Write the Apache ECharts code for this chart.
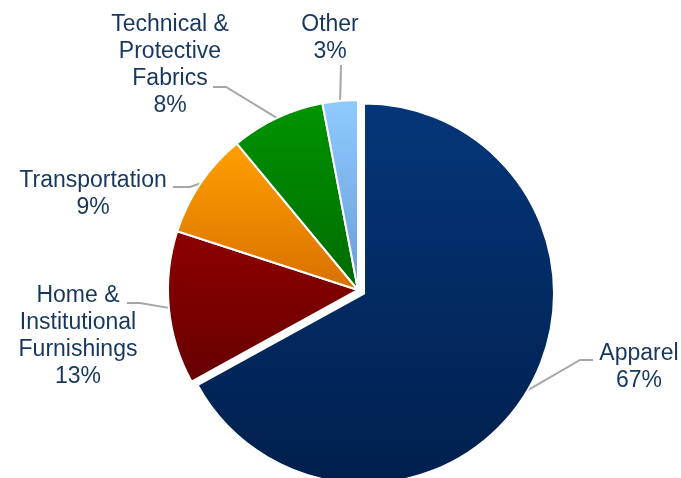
<!DOCTYPE html>
<html>
<head>
<meta charset="utf-8">
<script src="https://cdn.jsdelivr.net/npm/echarts@6/dist/echarts.min.js"></script>
<style>
html,body{margin:0;padding:0;background:#fff;}
#chart{width:681px;height:478px;}
</style>
</head>
<body>
<div id="chart"></div>
<script>
var categories = ['Apparel', 'Home &\nInstitutional\nFurnishings', 'Transportation', 'Technical &\nProtective\nFabrics', 'Other'];
var values = [67, 13, 9, 8, 3];
var exploded = [true, false, false, false, false];
var gradTop = ['#053679', '#8e0000', '#ffa000', '#009400', '#8ecbff'];
var gradBottom = ['#001f4d', '#660000', '#d87000', '#006a00', '#6a9cd6'];

// label placement (text block centre, leader-line bend and end)
var labelCfg = [
  {x: 639, y: 367, bend: [580, 360], end: [593, 360]},
  {x: 78, y: 336, bend: [140, 303], end: [127, 303]},
  {x: 93, y: 194, bend: [190, 187], end: [173, 187]},
  {x: 170, y: 65, bend: [226, 87], end: [213, 87]},
  {x: 330, y: 38, bend: [341, 65], end: [341, 65]}
];

var CX = 358, CY = 290, R = 190, OFFSET = 7;
var total = values.reduce(function (a, b) { return a + b; }, 0);

function explodeCenter(idx) {
  var before = 0;
  for (var k = 0; k < idx; k++) before += values[k];
  var mid = (before + values[idx] / 2) / total * 2 * Math.PI;
  return [CX + OFFSET * Math.sin(mid), CY - OFFSET * Math.cos(mid)];
}

function buildData(showExploded) {
  return categories.map(function (c, i) {
    var visible = exploded[i] === showExploded;
    return {
      name: c,
      value: values[i],
      itemStyle: visible ? {
        color: new echarts.graphic.LinearGradient(0, 0, 0, 1, [
          {offset: 0, color: gradTop[i]},
          {offset: 1, color: gradBottom[i]}
        ])
      } : {color: 'rgba(0,0,0,0)', borderWidth: 0},
      label: {show: visible},
      labelLine: {show: visible}
    };
  });
}

function makeSeries(center, showExploded) {
  return {
    type: 'pie',
    center: center,
    radius: R,
    startAngle: 90,
    clockwise: true,
    silent: true,
    avoidLabelOverlap: false,
    itemStyle: {borderColor: '#fff', borderWidth: 2},
    label: {
      position: 'outside',
      formatter: function (p) { return p.name + '\n' + p.value + '%'; },
      fontFamily: 'Liberation Sans, Arial, sans-serif',
      fontSize: 23,
      lineHeight: 27,
      color: '#17375e',
      align: 'center'
    },
    labelLine: {
      smooth: false,
      lineStyle: {color: '#a6a6a6', width: 2}
    },
    labelLayout: function (p) {
      var L = labelCfg[p.dataIndex];
      var pts = p.labelLinePoints;
      var start = pts ? pts[0] : L.bend;
      return {
        x: L.x,
        y: L.y,
        align: 'center',
        verticalAlign: 'middle',
        labelLinePoints: [start, L.bend, L.end]
      };
    },
    emphasis: {disabled: true},
    data: buildData(showExploded)
  };
}

var chart = echarts.init(document.getElementById('chart'), null, {renderer: 'canvas'});
chart.setOption({
  animation: false,
  series: [
    makeSeries([CX, CY], false),
    makeSeries(explodeCenter(0), true)
  ]
});
</script>
</body>
</html>
